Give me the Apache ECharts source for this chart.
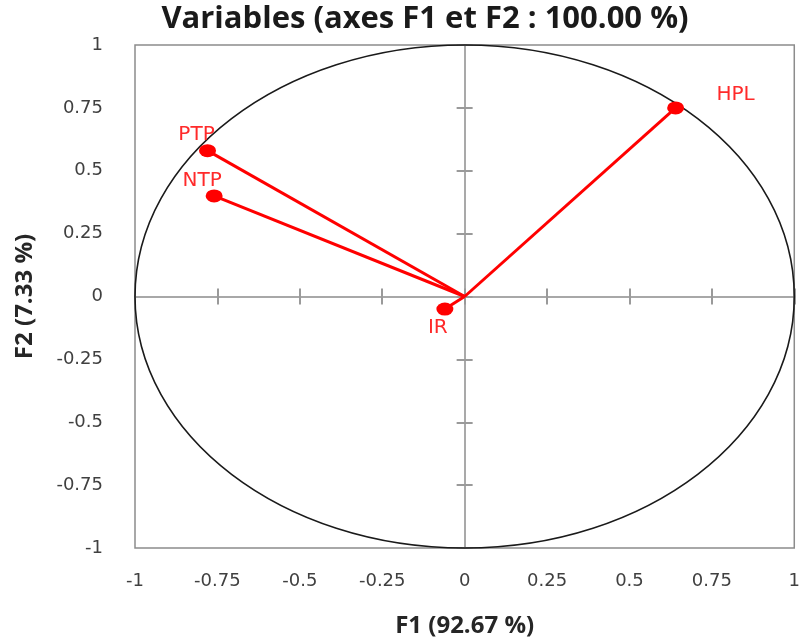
<!DOCTYPE html>
<html><head><meta charset="utf-8">
<script src="https://cdn.jsdelivr.net/npm/echarts@6/dist/echarts.min.js"></script>
<style>html,body{margin:0;padding:0;background:#fff}#c{width:803px;height:643px}</style>
</head><body><div id="c"></div>
<script>
var variables = ['HPL', 'PTP', 'NTP', 'IR'];
var f1 = [0.64, -0.78, -0.76, -0.06];
var f2 = [0.75, 0.58, 0.40, -0.05];
var labelOffsets = [[60, -13], [-11, -16], [-12, -15], [-7, 19]];
var titleText = 'Variables (axes F1 et F2 : 100.00 %)';
var xName = 'F1 (92.67 %)';
var yName = 'F2 (7.33 %)';

var chart = echarts.init(document.getElementById('c'));
var gridLine = '#8c8c8c';
var tickColor = '#9a9a9a';
var tickFont = {fontFamily: 'DejaVu Sans', fontSize: 18, color: '#404040'};
var nameFont = {fontFamily: 'Open Sans', fontWeight: 'bold', fontSize: 24, color: '#262626'};

function baseAxis(extra) {
  var a = {type: 'value', min: -1, max: 1, interval: 0.25, splitLine: {show: false}};
  for (var k in extra) a[k] = extra[k];
  return a;
}
var labelAxisX = baseAxis({position: 'bottom', axisLine: {show: false, onZero: false}, axisTick: {show: false},
  axisLabel: Object.assign({margin: 24, formatter: function (v) { return String(v); }}, tickFont),
  name: xName, nameLocation: 'middle', nameGap: 66, nameTextStyle: nameFont});
var zeroAxisX1 = baseAxis({axisLine: {show: true, onZero: true, onZeroAxisIndex: 1, lineStyle: {color: gridLine, width: 1.5}},
  axisTick: {show: true, inside: true, length: 8, lineStyle: {color: tickColor, width: 2}}, axisLabel: {show: false}});
var zeroAxisX2 = baseAxis({axisLine: {show: false, onZero: true, onZeroAxisIndex: 1},
  axisTick: {show: true, inside: false, length: 8, lineStyle: {color: tickColor, width: 2}}, axisLabel: {show: false}});

var labelAxisY = baseAxis({position: 'left', axisLine: {show: false, onZero: false}, axisTick: {show: false},
  axisLabel: Object.assign({margin: 32, formatter: function (v) { return String(v); }}, tickFont),
  name: yName, nameLocation: 'middle', nameGap: 98, nameTextStyle: nameFont});
var zeroAxisY1 = baseAxis({axisLine: {show: true, onZero: true, onZeroAxisIndex: 1, lineStyle: {color: gridLine, width: 1.5}},
  axisTick: {show: true, inside: true, length: 8, lineStyle: {color: tickColor, width: 2}}, axisLabel: {show: false}});
var zeroAxisY2 = baseAxis({axisLine: {show: false, onZero: true, onZeroAxisIndex: 1},
  axisTick: {show: true, inside: false, length: 8, lineStyle: {color: tickColor, width: 2}}, axisLabel: {show: false}});

var series = [];
series.push({
  type: 'custom', xAxisIndex: 0, yAxisIndex: 0, silent: true, z: 1,
  data: [[0, 0]],
  renderItem: function (params, api) {
    var c = api.coord([0, 0]);
    var s = api.size([1, 1]);
    return {type: 'ellipse', shape: {cx: c[0], cy: c[1], rx: s[0], ry: s[1]},
      style: {fill: 'none', stroke: '#1a1a1a', lineWidth: 1.6}};
  }
});
for (var i = 0; i < variables.length; i++) {
  series.push({
    type: 'line', xAxisIndex: 0, yAxisIndex: 0, z: 3, silent: true,
    data: [[0, 0], [f1[i], f2[i]]], showSymbol: false, symbol: 'none',
    lineStyle: {color: '#ff0000', width: 3}
  });
}
series.push({
  type: 'scatter', xAxisIndex: 0, yAxisIndex: 0, z: 4, symbol: 'circle', symbolSize: [17, 13],
  itemStyle: {color: '#ff0000', opacity: 1},
  data: variables.map(function (n, i) {
    return {name: n, value: [f1[i], f2[i]],
      label: {show: true, position: 'inside', offset: labelOffsets[i], formatter: n,
        color: '#ff2a2a', fontFamily: 'DejaVu Sans', fontSize: 20}};
  })
});

chart.setOption({
  animation: false,
  backgroundColor: '#fff',
  title: {text: titleText, left: 420, top: -1, textAlign: 'center',
    textStyle: {fontFamily: 'Open Sans', fontWeight: 'bold', fontSize: 31, color: '#1a1a1a'}},
  grid: {left: 135, right: 8, top: 45, bottom: 93, show: true, borderColor: gridLine, borderWidth: 1.5, backgroundColor: 'transparent'},
  xAxis: [labelAxisX, zeroAxisX1, zeroAxisX2],
  yAxis: [labelAxisY, zeroAxisY1, zeroAxisY2],
  series: series
});
</script></body></html>
